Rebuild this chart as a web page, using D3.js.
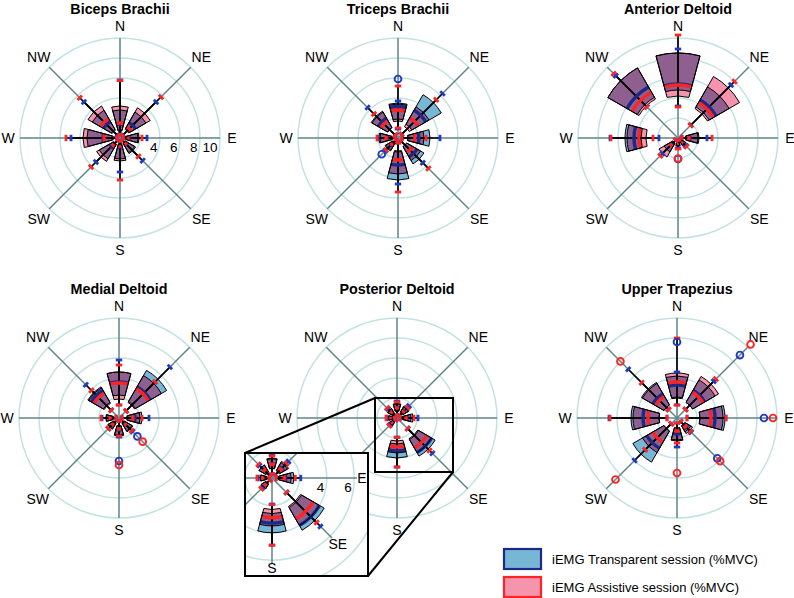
<!DOCTYPE html>
<html>
<head>
<meta charset="utf-8">
<script src="https://cdn.jsdelivr.net/npm/d3@7"></script>
<style>
  body { margin: 0; background: #fff; }
  svg { display: block; }
  text { font-family: "Liberation Sans", Arial, sans-serif; }
</style>
</head>
<body>
<div id="chart"></div>
<script>
// directions, rings, labels
const DIRS = ["N", "NE", "E", "SE", "S", "SW", "W", "NW"];
const MUSCLES = ["Biceps Brachii", "Triceps Brachii", "Anterior Deltoid",
                 "Medial Deltoid", "Posterior Deltoid", "Upper Trapezius"];
const RINGS = [2, 4, 6, 8, 10];
const TICKS = [4, 6, 8, 10];
const INSET_TICKS = [4, 6];
const LEGEND = ["iEMG Transparent session (%MVC)", "iEMG Assistive session (%MVC)"];

// box stats per direction (N..NW): [low whisker, q1, median, q3, high whisker]
const bicepsT = [[0.3,0.8,1.4,2.8,5.8],[0.4,1.1,1.8,3.0,5.1],[0.3,0.6,0.9,1.8,2.7],[0.3,0.6,0.9,1.8,3.2],
                 [0.3,0.6,0.9,2.1,3.4],[0.3,0.8,1.2,2.4,3.4],[0.3,0.8,1.7,3.3,4.9],[0.4,1.0,1.9,3.2,5.1]];
const bicepsA = [[0.3,0.7,1.5,3.2,5.75],[0.4,1.0,1.3,3.5,5.8],[0.3,0.6,0.8,1.9,2.2],[0.3,0.6,0.8,1.7,2.6],
                 [0.3,0.6,0.8,2.3,4.2],[0.3,0.7,1.0,2.7,4.1],[0.3,0.7,1.6,3.7,5.4],[0.3,0.9,2.25,3.7,5.7]];
const tricepsT = [[0.9,1.9,3.15,3.5,3.7],[0.5,1.6,3.2,5.0,6.3],[0.4,1.0,2.1,3.2,4.2],[0.4,1.0,2.2,3.0,3.5],
                  [0.5,1.4,2.7,4.2,4.6],[0.2,0.6,1.0,1.5,1.8],[0.3,0.6,1.1,1.8,2.0],[0.4,1.2,2.3,3.0,4.3]];
const tricepsA = [[1.0,1.7,2.8,3.4,5.2],[0.5,1.3,2.35,3.6,5.4],[0.4,1.0,1.7,2.6,2.8],[0.4,1.0,1.7,2.6,4.3],
                  [0.5,1.3,2.2,3.6,5.4],[0.2,0.6,0.9,1.4,1.7],[0.3,0.6,1.2,1.9,2.1],[0.4,1.2,2.0,3.1,3.4]];
const anteriorT = [[3.2,4.8,5.4,8.5,8.9],[1.8,3.6,4.4,5.9,7.5],[0.4,0.8,1.2,2.0,2.9],[0.2,0.4,0.6,0.9,1.1],
                   [0.2,0.4,0.6,0.8,1.0],[0.3,0.6,0.9,1.6,2.2],[1.9,3.7,4.4,5.3,6.8],[4.4,4.7,5.9,8.1,8.8]];
const anteriorA = [[3.1,4.2,5.3,8.5,10.3],[1.8,3.4,4.1,7.1,8.0],[0.4,0.8,1.1,2.1,3.4],[0.2,0.4,0.6,0.9,1.2],
                   [0.2,0.4,0.6,0.8,1.1],[0.3,0.6,1.0,2.2,2.5],[2.5,3.2,3.9,5.1,6.7],[4.4,4.5,5.3,8.1,9.1]];
const medialT = [[1.3,2.3,3.6,4.6,5.8],[1.0,1.9,3.6,5.5,7.2],[0.3,0.9,1.6,2.3,3.0],[0.3,0.6,0.9,1.6,1.9],
                 [0.3,0.8,1.2,1.8,1.9],[0.3,0.6,0.9,1.3,1.5],[0.3,0.6,0.9,1.3,1.7],[1.1,1.8,3.2,3.6,4.7]];
const medialA = [[1.3,1.9,3.5,4.6,5.3],[1.0,1.8,3.4,4.9,5.1],[0.3,0.8,1.4,2.1,2.3],[0.3,0.6,0.9,1.5,1.8],
                 [0.3,0.8,1.1,1.7,1.8],[0.3,0.6,0.9,1.2,1.5],[0.3,0.6,0.9,1.3,1.8],[1.1,1.7,2.9,3.5,3.9]];
const posteriorT = [[0.3,0.7,1.0,1.4,1.7],[0.3,0.7,1.0,1.4,1.7],[0.3,0.5,1.0,1.6,2.1],[1.5,2.5,4.0,4.4,5.0],
                    [1.9,2.6,3.3,4.0,4.9],[0.2,0.5,0.7,0.9,1.0],[0.2,0.4,0.6,0.85,1.0],[0.2,0.5,0.8,1.1,1.3]];
const posteriorA = [[0.3,0.7,1.0,1.45,1.6],[0.3,0.6,0.9,1.3,1.5],[0.3,0.5,0.9,1.4,1.7],[1.5,2.4,3.45,4.0,4.6],
                    [1.95,2.3,2.9,3.5,4.9],[0.2,0.5,0.7,0.9,1.1],[0.2,0.4,0.7,0.85,1.1],[0.2,0.5,0.8,1.1,1.4]];
const trapT = [[1.3,2.0,3.3,4.2,4.6],[1.2,1.8,3.2,4.4,5.2],[1.0,2.3,3.8,4.8,4.9],[0.5,0.9,1.3,1.8,2.0],
               [0.5,1.0,1.6,2.3,2.9],[0.8,1.5,3.5,5.1,6.0],[1.0,1.8,3.4,4.6,6.8],[1.2,1.5,2.8,4.1,6.9]];
const trapA = [[1.3,2.1,3.6,4.5,8.0],[1.2,1.8,3.0,4.8,5.5],[1.0,2.3,3.4,4.6,4.9],[0.5,0.9,1.2,1.6,1.9],
               [0.5,1.0,1.3,2.2,2.5],[0.8,1.5,2.8,4.0,4.5],[1.0,1.8,2.9,4.4,6.7],[1.2,1.5,2.5,4.0,5.0]];

// outliers: [direction index, value]
const bicepsOutT = [], bicepsOutA = [];
const tricepsOutT = [[0, 5.9], [5, 2.3]], tricepsOutA = [];
const anteriorOutT = [[4, 2.1]], anteriorOutA = [[4, 2.05]];
const medialOutT = [[3, 2.6], [4, 4.3]], medialOutA = [[3, 3.35], [4, 4.7]];
const posteriorOutT = [], posteriorOutA = [];
const trapOutT = [[0, 7.6], [1, 8.9], [2, 8.7], [3, 5.7]];
const trapOutA = [[1, 10.4], [2, 9.6], [3, 6.1], [4, 5.5], [5, 8.7], [7, 8.0]];

// colours
const RING_COLOR = "#c3e2e2";
const AXIS_COLOR = "#5f8686";
const BLUE_FILL = "#78b6d6";
const PINK_FILL = "#f693ad";
const PURPLE = "#8f5f8f";
const NAVY = "#1c2a86";
const RED = "#ff2424";
const CAP_BLUE = "#1f3cc0";

const W = 794, H = 598;
const svg = d3.select("#chart").append("svg")
  .attr("width", W).attr("height", H);

const HALF = 15 * Math.PI / 180;
const pt = (r, a) => [r * Math.sin(a), -r * Math.cos(a)];
const arcGen = d3.arc();

function drawRose(g, R, T, A, outT, outA, axisMax, labelR, ticks, hideLabels) {
  // rings + spokes
  g.selectAll(".ring").data(RINGS)
    .enter().append("circle")
      .attr("r", d => R(d))
      .attr("fill", "none")
      .attr("stroke", RING_COLOR)
      .attr("stroke-width", 1.5);
  DIRS.forEach((d, i) => {
    const p = pt(R(axisMax), i * Math.PI / 4);
    g.append("line")
      .attr("x1", 0).attr("y1", 0).attr("x2", p[0]).attr("y2", p[1])
      .attr("stroke", AXIS_COLOR).attr("stroke-width", 1.5);
  });
  // direction labels
  DIRS.forEach((d, i) => {
    if (hideLabels.includes(d)) return;
    const p = pt(labelR + (i % 2 ? 3 : 0), i * Math.PI / 4);
    g.append("text")
      .attr("x", p[0]).attr("y", p[1])
      .attr("text-anchor", "middle")
      .attr("dominant-baseline", "central")
      .attr("font-size", 14)
      .text(d);
  });
  // tick labels
  g.selectAll(".tick").data(ticks).enter().append("text")
    .attr("x", d => R(d) - 2.5)
    .attr("y", 13.5)
    .attr("text-anchor", "end")
    .attr("font-size", 13.5)
    .text(d => d);

  const band = (r0, r1, a) => arcGen({innerRadius: r0, outerRadius: r1,
                                     startAngle: a - HALF, endAngle: a + HALF});

  DIRS.forEach((dir, i) => {
    const a = i * Math.PI / 4;
    const t = T[i], s = A[i];
    // fills
    g.append("path").attr("d", band(R(t[1]), R(t[3]), a)).attr("fill", BLUE_FILL);
    g.append("path").attr("d", band(R(s[1]), R(s[3]), a)).attr("fill", PINK_FILL);
    const lo = Math.max(t[1], s[1]), hi = Math.min(t[3], s[3]);
    if (hi > lo) g.append("path").attr("d", band(R(lo), R(hi), a)).attr("fill", PURPLE);
    // whisker lines
    [t, s].forEach(b => {
      const p0 = pt(R(b[0]), a), p1 = pt(R(b[4]), a);
      g.append("line")
        .attr("x1", p0[0]).attr("y1", p0[1]).attr("x2", p1[0]).attr("y2", p1[1])
        .attr("stroke", "#000").attr("stroke-width", 1.6);
    });
    // medians
    g.append("path").attr("d", band(R(t[2]) - 1.7, R(t[2]) + 1.7, a)).attr("fill", NAVY);
    g.append("path").attr("d", band(R(s[2]) - 1.7, R(s[2]) + 1.7, a)).attr("fill", RED);
    // outlines
    [t, s].forEach(b => {
      g.append("path").attr("d", band(R(b[1]), R(b[3]), a))
        .attr("fill", "none").attr("stroke", "#000").attr("stroke-width", 1);
    });
    // caps
    [[t, CAP_BLUE], [s, RED]].forEach(([b, c]) => {
      [b[0], b[4]].forEach(v => {
        const p = pt(R(v), a);
        const dx = 3.2 * Math.cos(a), dy = 3.2 * Math.sin(a);
        g.append("line")
          .attr("x1", p[0] - dx).attr("y1", p[1] - dy)
          .attr("x2", p[0] + dx).attr("y2", p[1] + dy)
          .attr("stroke", c).attr("stroke-width", 2.8);
      });
    });
  });

  // outliers
  [[outT, CAP_BLUE], [outA, RED]].forEach(([list, c]) => {
    list.forEach(o => {
      const p = pt(R(o[1]), o[0] * Math.PI / 4);
      g.append("circle")
        .attr("cx", p[0]).attr("cy", p[1]).attr("r", 3.4)
        .attr("fill", "none").attr("stroke", c).attr("stroke-width", 1.9);
    });
  });
}

const R = d3.scaleLinear().domain([0, 10]).range([0, 100]);

const panels = [
  {T: bicepsT, A: bicepsA, oT: bicepsOutT, oA: bicepsOutA, cx: 120, cy: 138, ticks: TICKS, hide: []},
  {T: tricepsT, A: tricepsA, oT: tricepsOutT, oA: tricepsOutA, cx: 398, cy: 138, ticks: [], hide: []},
  {T: anteriorT, A: anteriorA, oT: anteriorOutT, oA: anteriorOutA, cx: 678, cy: 138, ticks: [], hide: []},
  {T: medialT, A: medialA, oT: medialOutT, oA: medialOutA, cx: 119, cy: 418, ticks: [], hide: []},
  {T: posteriorT, A: posteriorA, oT: posteriorOutT, oA: posteriorOutA, cx: 397, cy: 418, ticks: [], hide: ["SW"]},
  {T: trapT, A: trapA, oT: trapOutT, oA: trapOutA, cx: 677, cy: 418, ticks: [], hide: []}
];

panels.forEach((p, k) => {
  const g = svg.append("g").attr("transform", `translate(${p.cx},${p.cy})`);
  drawRose(g, R, p.T, p.A, p.oT, p.oA, 10, 112, p.ticks, p.hide);
  svg.append("text")
    .attr("x", p.cx).attr("y", p.cy - 124.5)
    .attr("text-anchor", "middle")
    .attr("font-size", 14.3).attr("font-weight", "bold")
    .text(MUSCLES[k]);
});

// zoomed inset for the posterior deltoid
const post = panels[4];
const small = {x0: 375, y0: 398, x1: 453, y1: 472};
const inset = {x: 245, y: 453, w: 123, h: 123, cx: 272, cy: 478};

svg.append("rect")
  .attr("x", small.x0).attr("y", small.y0)
  .attr("width", small.x1 - small.x0).attr("height", small.y1 - small.y0)
  .attr("fill", "none").attr("stroke", "#000").attr("stroke-width", 2);
svg.append("line").attr("x1", small.x0).attr("y1", small.y0)
  .attr("x2", inset.x).attr("y2", inset.y)
  .attr("stroke", "#000").attr("stroke-width", 2);
svg.append("line").attr("x1", small.x1).attr("y1", small.y1)
  .attr("x2", inset.x + inset.w).attr("y2", inset.y + inset.h)
  .attr("stroke", "#000").attr("stroke-width", 2);

svg.append("clipPath").attr("id", "insetClip")
  .append("rect")
    .attr("x", inset.x).attr("y", inset.y)
    .attr("width", inset.w).attr("height", inset.h);
svg.append("rect")
  .attr("x", inset.x).attr("y", inset.y)
  .attr("width", inset.w).attr("height", inset.h)
  .attr("fill", "#fff");
const RI = d3.scaleLinear().domain([0, 10]).range([0, 137]);
const gi = svg.append("g").attr("clip-path", "url(#insetClip)")
  .append("g").attr("transform", `translate(${inset.cx},${inset.cy})`);
drawRose(gi, RI, post.T, post.A, post.oT, post.oA, 6.2, 90, INSET_TICKS, ["N", "NE", "NW", "W", "SW"]);
svg.append("rect")
  .attr("x", inset.x).attr("y", inset.y)
  .attr("width", inset.w).attr("height", inset.h)
  .attr("fill", "none").attr("stroke", "#000").attr("stroke-width", 2);

// legend
const leg = svg.append("g");
[[BLUE_FILL, NAVY], [PINK_FILL, RED]].forEach(([f, s], i) => {
  leg.append("rect")
    .attr("x", 504).attr("y", 549 + i * 28)
    .attr("width", 37).attr("height", 20)
    .attr("fill", f).attr("stroke", s).attr("stroke-width", 2.2);
  leg.append("text")
    .attr("x", 552).attr("y", 559 + i * 28)
    .attr("dominant-baseline", "central")
    .attr("font-size", 13)
    .text(LEGEND[i]);
});
</script>
</body>
</html>
